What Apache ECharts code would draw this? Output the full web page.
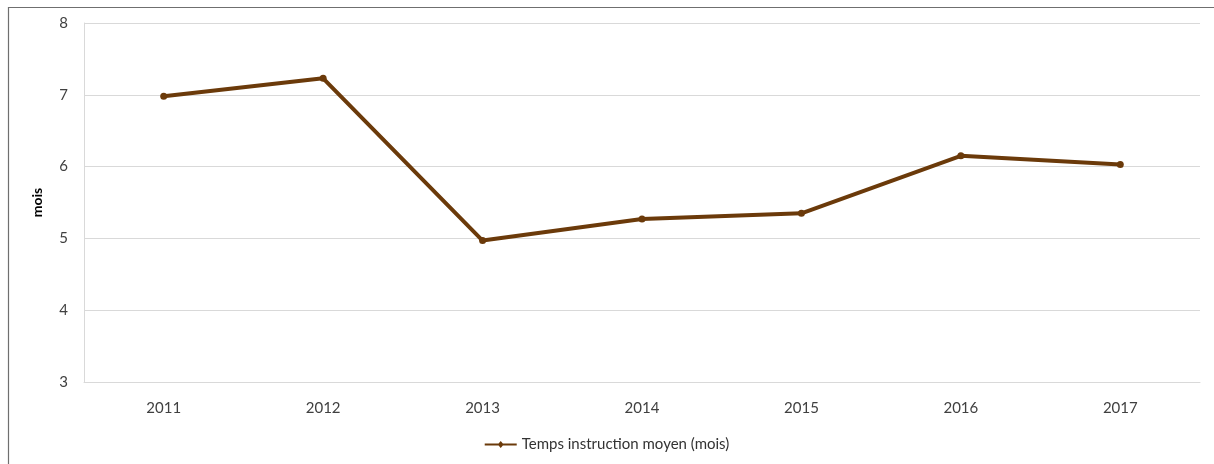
<!DOCTYPE html>
<html>
<head>
<meta charset="utf-8">
<script src="https://cdn.jsdelivr.net/npm/echarts@6/dist/echarts.min.js"></script>
<style>
html,body{margin:0;padding:0;background:#fff;}
#c{width:1214px;height:464px;}
</style>
</head>
<body>
<div id="c"></div>
<script>
const categories = ['2011','2012','2013','2014','2015','2016','2017'];
const values = [6.98, 7.23, 4.97, 5.27, 5.35, 6.15, 6.03];
const seriesName = 'Temps instruction moyen (mois)';
const yAxisName = 'mois';

const chart = echarts.init(document.getElementById('c'));
const font = 'Lato, "Open Sans", sans-serif';
chart.setOption({
  animation: false,
  textStyle: { fontFamily: font },
  graphic: [{
    type: 'rect', silent: true,
    shape: { x: 8.5, y: 7.5, width: 1400, height: 600 },
    style: { fill: 'none', stroke: '#6f6f6f', lineWidth: 1.2 }
  }],
  grid: { left: 84, right: 14, top: 23, bottom: 82 },
  legend: {
    bottom: 7, left: 'center',
    itemWidth: 32, itemHeight: 7, itemGap: 2,
    textStyle: { fontSize: 15, color: '#333', fontFamily: font },
    data: [{ name: seriesName, icon: 'path://M0,2.6 L32,2.6 L32,4.4 L0,4.4 Z M13,3.5 L16,0 L19,3.5 L16,7 Z' }]
  },
  xAxis: {
    type: 'category', data: categories, boundaryGap: true,
    axisLine: { show: true, lineStyle: { color: '#d9d9d9', width: 1 } },
    axisTick: { show: false },
    axisLabel: { fontSize: 15, color: '#404040', margin: 19, fontFamily: font }
  },
  yAxis: {
    type: 'value', min: 3, max: 8, interval: 1,
    name: yAxisName, nameLocation: 'middle', nameGap: 40, nameRotate: 90,
    nameTextStyle: { fontSize: 14, color: '#000', fontWeight: 'bold', fontFamily: font },
    axisLine: { show: true, lineStyle: { color: '#d9d9d9' } },
    axisTick: { show: false },
    axisLabel: { fontSize: 15, color: '#404040', margin: 16, fontFamily: font },
    splitLine: { lineStyle: { color: '#d9d9d9', width: 1 } }
  },
  series: [{
    name: seriesName, type: 'line', data: values,
    symbol: 'circle', symbolSize: 7,
    lineStyle: { color: '#6b3a0a', width: 4 },
    itemStyle: { color: '#6b3a0a' }
  }]
});
</script>
</body>
</html>
